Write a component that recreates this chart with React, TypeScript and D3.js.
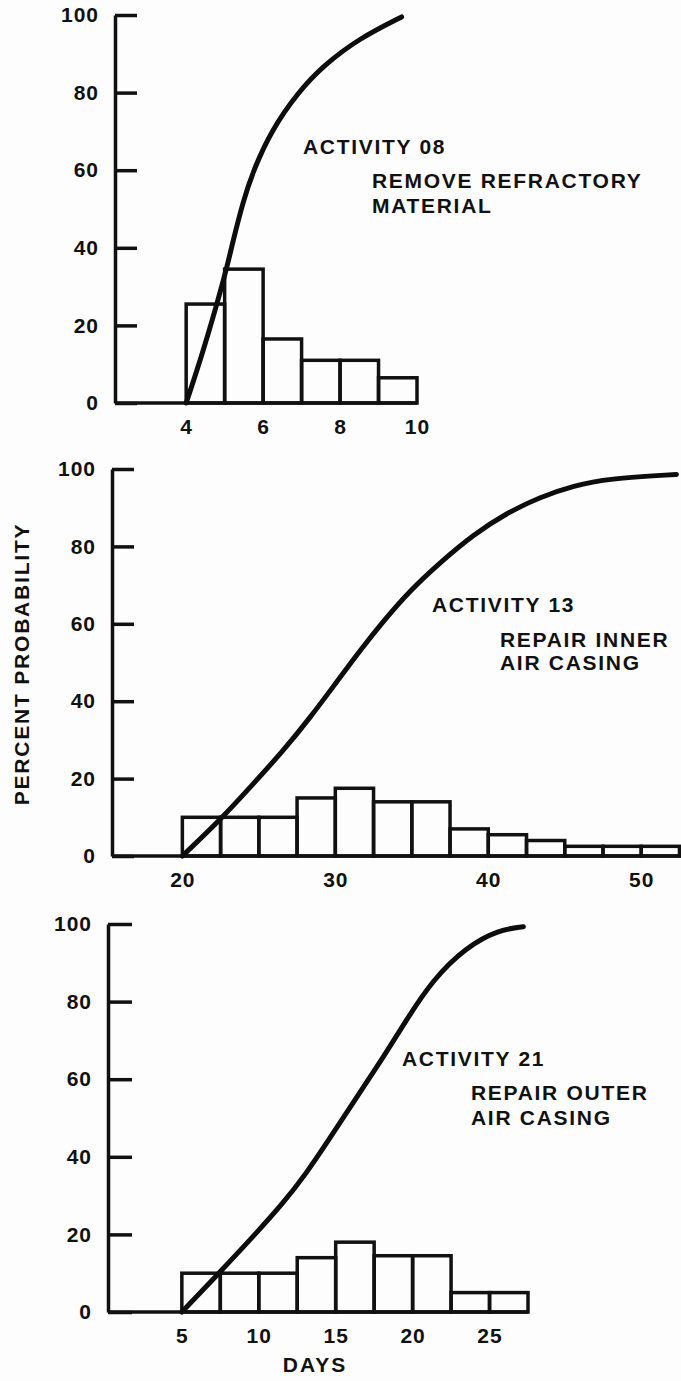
import React, { useEffect, useRef } from 'react';
import * as d3 from 'd3';

// Activity 08 - remove refractory material
const act08BinStart = [4, 5, 6, 7, 8, 9];
const act08BinWidth = 1;
const act08Values = [25.5, 34.5, 16.5, 11, 11, 6.5];
const act08CurveDays = [4, 4.4, 4.8, 5.06, 5.2, 5.48, 5.75, 6.2, 6.9, 7.57, 8.5, 9.6];
const act08CurvePct = [0, 12, 25.5, 35, 41, 52, 60, 70, 80, 87, 94, 99.5];
const act08Ticks = [4, 6, 8, 10];

// Activity 13 - repair inner air casing
const act13BinStart = [20, 22.5, 25, 27.5, 30, 32.5, 35, 37.5, 40, 42.5, 45, 47.5, 50];
const act13BinWidth = 2.5;
const act13Values = [10, 10, 10, 15, 17.5, 14, 14, 7, 5.5, 4, 2.5, 2.5, 2.5];
const act13CurveDays = [20, 22.6, 24.6, 26.6, 28.4, 30, 31.6, 33.1, 34.9, 36.9, 39, 41.2, 43.4, 45.6, 47.8, 52.3];
const act13CurvePct = [0, 9.8, 18.5, 27.2, 36, 44.5, 53, 60.5, 68.7, 76, 83, 88.6, 92.8, 95.7, 97.5, 98.6];
const act13Ticks = [20, 30, 40, 50];

// Activity 21 - repair outer air casing
const act21BinStart = [5, 7.5, 10, 12.5, 15, 17.5, 20, 22.5, 25];
const act21BinWidth = 2.5;
const act21Values = [10, 10, 10, 14, 18, 14.5, 14.5, 5, 5];
const act21CurveDays = [5, 7.6, 9.6, 11.6, 13.1, 14.4, 15.7, 16.8, 18.1, 19.6, 21.3, 23.5, 25.6, 27.2];
const act21CurvePct = [0, 10.8, 19.3, 28.1, 35.8, 43.5, 51.3, 58, 65.7, 75.3, 85.6, 94.1, 98.5, 99.3];
const act21Ticks = [5, 10, 15, 20, 25];

const yTicks = [0, 20, 40, 60, 80, 100];

const FONT = '"Liberation Sans", Arial, Helvetica, sans-serif';

const panels = [
  {
    bins: act08BinStart, binWidth: act08BinWidth, values: act08Values,
    curveX: act08CurveDays, curveY: act08CurvePct, ticks: act08Ticks,
    xDomain: [2.15, 10], xRange: [115, 417], baseEnd: 10,
    yRange: [403, 15], tickLen: 22,
    labels: [
      { text: 'ACTIVITY 08', x: 303, y: 154 },
      { text: 'REMOVE REFRACTORY', x: 372, y: 188 },
      { text: 'MATERIAL', x: 372, y: 213 },
    ],
  },
  {
    bins: act13BinStart, binWidth: act13BinWidth, values: act13Values,
    curveX: act13CurveDays, curveY: act13CurvePct, ticks: act13Ticks,
    xDomain: [15.4, 52.6], xRange: [112, 681], baseEnd: 52.6,
    yRange: [856, 469], tickLen: 22,
    labels: [
      { text: 'ACTIVITY 13', x: 432, y: 612 },
      { text: 'REPAIR INNER', x: 500, y: 647 },
      { text: 'AIR CASING', x: 500, y: 670 },
    ],
  },
  {
    bins: act21BinStart, binWidth: act21BinWidth, values: act21Values,
    curveX: act21CurveDays, curveY: act21CurvePct, ticks: act21Ticks,
    xDomain: [0.2, 27.5], xRange: [108, 528], baseEnd: 27.5,
    yRange: [1312, 924], tickLen: 24,
    labels: [
      { text: 'ACTIVITY 21', x: 402, y: 1066 },
      { text: 'REPAIR OUTER', x: 471, y: 1100 },
      { text: 'AIR CASING', x: 471, y: 1125 },
    ],
  },
];

const App = () => {
  const svgRef = useRef<SVGSVGElement>(null);

  useEffect(() => {
    const svg = d3.select(svgRef.current);
    svg.selectAll('*').remove();

    svg.append('rect').attr('width', 681).attr('height', 1381).attr('fill', '#fdfdfd');

    panels.forEach(p => {
      const x = d3.scaleLinear().domain(p.xDomain).range(p.xRange);
      const y = d3.scaleLinear().domain([0, 100]).range(p.yRange);
      const g = svg.append('g');

      // histogram bars
      g.selectAll('rect.bar')
        .data(p.bins.map((b, i) => ({ b, v: p.values[i] })))
        .enter()
        .append('rect')
        .attr('class', 'bar')
        .attr('x', d => x(d.b))
        .attr('y', d => y(d.v))
        .attr('width', d => x(d.b + p.binWidth) - x(d.b))
        .attr('height', d => y(0) - y(d.v))
        .attr('fill', 'none')
        .attr('stroke', '#111')
        .attr('stroke-width', 3.5);

      // baseline
      g.append('line')
        .attr('x1', x(p.xDomain[0]))
        .attr('x2', x(p.baseEnd))
        .attr('y1', y(0))
        .attr('y2', y(0))
        .attr('stroke', '#111')
        .attr('stroke-width', 3.5);

      // y axis
      const yAxis = d3.axisLeft(y)
        .tickValues(yTicks)
        .tickSizeInner(-p.tickLen)
        .tickSizeOuter(0)
        .tickPadding(16);
      const ya = g.append('g')
        .attr('transform', `translate(${x(p.xDomain[0])},0)`)
        .call(yAxis);
      ya.selectAll('.domain, .tick line').attr('stroke', '#111').attr('stroke-width', 3.5);
      ya.selectAll('text')
        .attr('fill', '#111')
        .style('font-family', FONT)
        .style('font-size', '21px')
        .style('font-weight', 'bold')
        .style('letter-spacing', '1px');

      // x axis (labels only)
      const xAxis = d3.axisBottom(x).tickValues(p.ticks).tickSize(0).tickPadding(16).tickFormat(d3.format('d'));
      const xa = g.append('g')
        .attr('transform', `translate(0,${y(0)})`)
        .call(xAxis);
      xa.select('.domain').remove();
      xa.selectAll('text')
        .attr('fill', '#111')
        .style('font-family', FONT)
        .style('font-size', '21px')
        .style('font-weight', 'bold')
        .style('letter-spacing', '1px');

      // cumulative curve
      const line = d3.line<number>()
        .x((d, i) => x(p.curveX[i]))
        .y(d => y(d))
        .curve(d3.curveBasis);
      g.append('path')
        .datum(p.curveY)
        .attr('fill', 'none')
        .attr('stroke', '#0d0d0d')
        .attr('stroke-width', 5)
        .attr('stroke-linecap', 'round')
        .attr('d', line);

      // annotations
      p.labels.forEach(l => {
        g.append('text')
          .attr('x', l.x)
          .attr('y', l.y)
          .attr('fill', '#111')
          .style('font-family', FONT)
          .style('font-size', '21px')
          .style('font-weight', 'bold')
          .style('letter-spacing', '1.7px')
          .text(l.text);
      });
    });

    // axis titles
    svg.append('text')
      .attr('transform', 'translate(29,664) rotate(-90)')
      .attr('text-anchor', 'middle')
      .attr('fill', '#111')
      .style('font-family', FONT)
      .style('font-size', '21px')
      .style('font-weight', 'bold')
      .style('letter-spacing', '1.8px')
      .text('PERCENT PROBABILITY');

    svg.append('text')
      .attr('x', 315)
      .attr('y', 1372)
      .attr('text-anchor', 'middle')
      .attr('fill', '#111')
      .style('font-family', FONT)
      .style('font-size', '21px')
      .style('font-weight', 'bold')
      .style('letter-spacing', '2px')
      .text('DAYS');
  }, []);

  return (
    <div style={{ position: 'absolute', left: 0, top: 0 }}>
      <svg ref={svgRef} width={681} height={1381}></svg>
    </div>
  );
};

export default App;
